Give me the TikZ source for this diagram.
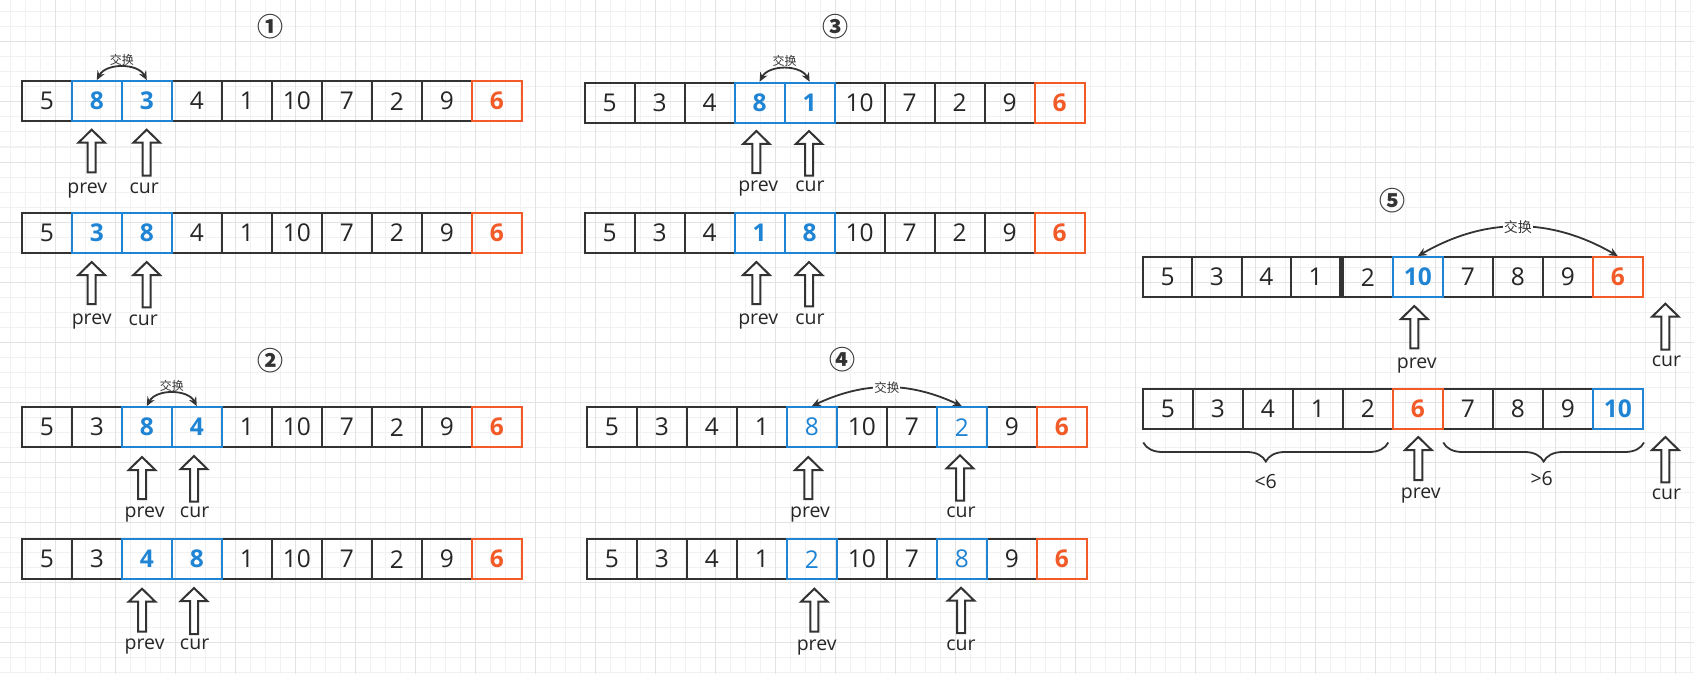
\documentclass[tikz,border=0pt]{standalone}
\usepackage{fontspec}
\setmainfont{Open Sans}
\newfontfamily\cjk{Noto Sans CJK SC}
\usetikzlibrary{arrows.meta,decorations.pathreplacing}
\definecolor{cblue}{HTML}{1F84D4}
\definecolor{corange}{HTML}{F25A28}
\definecolor{cdark}{HTML}{333333}
\definecolor{txt}{HTML}{262626}
\definecolor{gminor}{HTML}{F1F1F1}
\definecolor{gmajor}{HTML}{E3E3E3}
\def\plainstyle{cK}
\def\cw{50}
\newcommand\cells[5]{%
  \foreach [count=\i from #4] \v/\s in {#5} {
    \node[cell,\s,minimum width=\cw pt] (#1\i) at ({#2+\cw/2+\cw*(\i-#4)},#3) {\v};
  }
  \foreach [count=\i from #4] \v/\s in {#5} {
    \ifx\s\plainstyle\else
      \node[cell,\s,minimum width=\cw pt] at (#1\i) {};
    \fi
  }
}
\tikzset{
  cell/.style={draw=cdark, line width=2.2pt, minimum height=40pt, inner sep=0pt, text=txt, font=\fontsize{24.5}{28}\selectfont},
  cK/.style={},
  cB/.style={draw=cblue, text=cblue, font=\fontsize{24.5}{28}\selectfont\bfseries},
  cBn/.style={draw=cblue, text=cblue},
  cO/.style={draw=corange, text=corange, font=\fontsize{24.5}{28}\selectfont\bfseries},
  ptr/.style={font=\fontsize{19.5}{22}\selectfont, text=txt, anchor=base, inner sep=0pt},
  circnum/.style={font=\cjk\bfseries\fontsize{26}{28}\selectfont, text=cdark, inner sep=0pt},
  swaparr/.style={draw=cdark, line width=1.8pt, {Stealth[length=9pt,width=8pt]}-{Stealth[length=9pt,width=8pt]}},
  swl/.style={font=\cjk\fontsize{12}{14}\selectfont, text=cdark, inner sep=1pt},
  barrow/.style={draw=cdark, line width=2pt, fill=white},
  pics/uparr/.style={code={\draw[barrow] (0,0) -- (13.3,13) -- (4,13) -- (4,#1) -- (-4,#1) -- (-4,13) -- (-13.3,13) -- cycle;}},
  bracestyle/.style={draw=cdark, line width=1.8pt, decorate, decoration={brace, amplitude=19pt, mirror}},
  lbl/.style={font=\fontsize{19.5}{22}\selectfont, text=txt, inner sep=0pt},
}
\begin{document}
\begin{tikzpicture}[x=1pt,y=-1pt]
\useasboundingbox (0,0) rectangle (1694,674);
\fill[white] (0,0) rectangle (1694,674);
% grid
\foreach \x in {10,25,...,1690} \draw[gminor,line width=1pt] (\x,0) -- (\x,674);
\foreach \y in {12,27,...,672} \draw[gminor,line width=1pt] (0,\y) -- (1694,\y);
\foreach \x in {55,115,...,1690} \draw[gmajor,line width=1pt] (\x,0) -- (\x,674);
\foreach \y in {42,102,...,672} \draw[gmajor,line width=1pt] (0,\y) -- (1694,\y);

% ---------- panel 1 ----------
\node[circnum] (t1) at (270,26.7) {①};
\cells{A}{21.8}{101.2}{1}{5/cK,8/cB,3/cB,4/cK,1/cK,10/cK,7/cK,2/cK,9/cK,6/cO}
\cells{B}{21.8}{232.8}{1}{5/cK,3/cB,8/cB,4/cK,1/cK,10/cK,7/cK,2/cK,9/cK,6/cO}
\draw[swaparr] (A2.north) to[bend left=62] node[midway,above,swl] (s1) {\cjk 交换} (A3.north);
\pic at (91.7,129.7) {uparr=42.6};
\pic at (146.7,129.7) {uparr=46};
\node[ptr] (pa) at (87.3,193.5) {prev};
\node[ptr] (ca) at (144.3,193.5) {cur};
\pic at (91.7,262) {uparr=42};
\pic at (146.7,262) {uparr=45.3};
\node[ptr] (pb) at (91.7,324.5) {prev};
\node[ptr] (cb) at (143.3,325) {cur};

% ---------- panel 2 ----------
\node[circnum] (t2) at (270.4,360.7) {②};
\cells{C}{21.8}{427.2}{1}{5/cK,3/cK,8/cB,4/cB,1/cK,10/cK,7/cK,2/cK,9/cK,6/cO}
\cells{D}{21.8}{559.2}{1}{5/cK,3/cK,4/cB,8/cB,1/cK,10/cK,7/cK,2/cK,9/cK,6/cO}
\draw[swaparr] (C3.north) to[bend left=62] node[midway,above,swl] (s2) {\cjk 交换} (C4.north);
\pic at (142,457) {uparr=42};
\pic at (194,456) {uparr=45.7};
\node[ptr] (pc) at (144.6,517) {prev};
\node[ptr] (cc) at (194.6,517.5) {cur};
\pic at (142,588.7) {uparr=43};
\pic at (194,588) {uparr=46};
\node[ptr] (pd) at (144.6,649.5) {prev};
\node[ptr] (cd) at (194.6,649.5) {cur};

% ---------- panel 3 ----------
\node[circnum] (t3) at (835,26.7) {③};
\cells{E}{584.6}{102.8}{1}{5/cK,3/cK,4/cK,8/cB,1/cB,10/cK,7/cK,2/cK,9/cK,6/cO}
\cells{F}{584.6}{232.8}{1}{5/cK,3/cK,4/cK,1/cB,8/cB,10/cK,7/cK,2/cK,9/cK,6/cO}
\draw[swaparr] (E4.north) to[bend left=62] node[midway,above,swl] (s3) {\cjk 交换} (E5.north);
\pic at (756.4,131) {uparr=42};
\pic at (809,131) {uparr=44.7};
\node[ptr] (pe) at (758.2,191.3) {prev};
\node[ptr] (ce) at (810,191.3) {cur};
\pic at (756.4,262) {uparr=42};
\pic at (809,262) {uparr=44.3};
\node[ptr] (pf) at (758.2,324.5) {prev};
\node[ptr] (cf) at (810,324.5) {cur};

% ---------- panel 4 ----------
\node[circnum] (t4) at (842.7,360) {④};
\cells{G}{586.8}{427.2}{1}{5/cK,3/cK,4/cK,1/cK,8/cBn,10/cK,7/cK,2/cBn,9/cK,6/cO}
\cells{H}{586.8}{559.2}{1}{5/cK,3/cK,4/cK,1/cK,2/cBn,10/cK,7/cK,8/cBn,9/cK,6/cO}
\draw[swaparr] (G5.north) to[bend left=25] node[midway,swl,fill=white,font=\cjk\fontsize{12.5}{14}\selectfont] (s4) {\cjk 交换} (G8.north);
\pic at (808.3,457) {uparr=42};
\pic at (960,455.3) {uparr=45.4};
\node[ptr] (pg) at (810,517) {prev};
\node[ptr] (cg) at (961,517) {cur};
\pic at (814.3,588.7) {uparr=43};
\pic at (961,587.7) {uparr=45.3};
\node[ptr] (ph) at (816.7,650) {prev};
\node[ptr] (ch) at (961,650) {cur};

% ---------- panel 5 ----------
\node[circnum] (t5) at (1392.7,200.7) {⑤};
\def\cw{49.4}
\cells{I}{1142.8}{277.2}{1}{5/cK,3/cK,4/cK,1/cK}
\def\cw{50}
\cells{I}{1342.8}{277.2}{5}{2/cK,10/cB,7/cK,8/cK,9/cK,6/cO}
\cells{J}{1142.8}{408.8}{1}{5/cK,3/cK,4/cK,1/cK,2/cK,6/cO,7/cK,8/cK,9/cK,10/cB}
\draw[swaparr] (I6.north) to[bend left=30] node[midway,swl,fill=white,font=\cjk\fontsize{14}{16}\selectfont] (s5) {\cjk 交换} (I10.north);
\pic at (1414.3,306) {uparr=42.3};
\pic at (1665.4,303.7) {uparr=46};
\node[ptr] (pi) at (1416.7,368) {prev};
\node[ptr] (ci) at (1666.5,366.5) {cur};
\pic at (1418.3,437) {uparr=43};
\pic at (1665.4,437) {uparr=45.3};
\node[ptr] (pj) at (1420.7,498.5) {prev};
\node[ptr] (cj) at (1666.5,499.5) {cur};
\draw[bracestyle] (1143.3,442.5) -- (1388.3,442.5);
\draw[bracestyle] (1443.3,442.5) -- (1644,442.5);
\node[lbl] (lt) at (1265.7,481.7) {<6};
\node[lbl] (gt) at (1541.7,478.3) {>6};
\end{tikzpicture}
\end{document}
